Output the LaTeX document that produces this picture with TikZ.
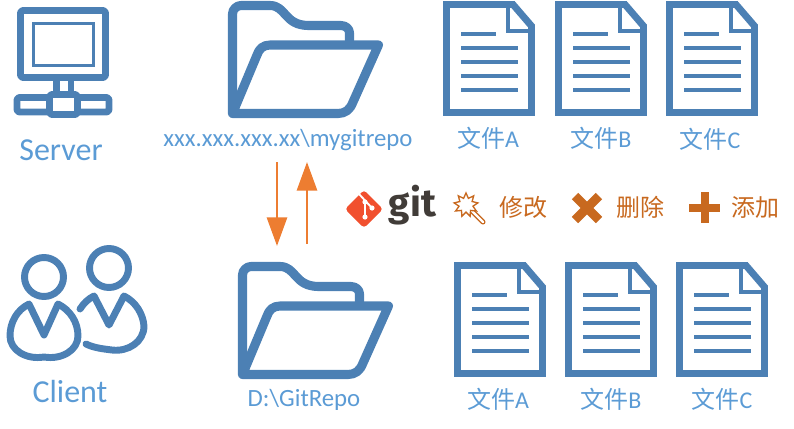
\documentclass[tikz,border=0pt]{standalone}
\usepackage{fontspec}
\setmainfont{Carlito}
\newfontfamily\cjk{Noto Sans CJK SC}
\newfontfamily\gitfont{Fira Sans}[BoldFont={Fira Sans Bold}]
\usetikzlibrary{positioning,arrows.meta,shapes.geometric}
\definecolor{iconblue}{HTML}{4C80B4}
\definecolor{textblue}{HTML}{5B9BD5}
\definecolor{arroworange}{HTML}{ED7D31}
\definecolor{editorange}{HTML}{C8691F}
\definecolor{gitred}{HTML}{F1502F}
\definecolor{gitdark}{HTML}{413C38}
\tikzset{
  iconline/.style={draw=iconblue, line width=5.2pt, line join=round, fill=white},
  folderline/.style={draw=iconblue, line width=6.8pt, line join=round},
  rowlabel/.style={text=textblue, font=\fontsize{24}{28}\selectfont, inner sep=0pt},
  pathlabel/.style={text=textblue, font=\fontsize{18.6}{22}\selectfont, inner sep=0pt},
  filelabel/.style={text=textblue, font=\fontsize{18}{22}\selectfont, inner sep=0pt},
  editlabel/.style={text=editorange, font=\cjk\fontsize{18}{22}\selectfont, inner sep=0pt},
  syncarrow/.style={-{Triangle[length=21.5pt,width=15pt]}, arroworange, line width=2.2pt},
  folderpic/.pic={
    \draw[folderline] (4.5,113.5) -- (4.5,14) .. controls (4.5,9) and (9,5.5) .. (13,5.5) -- (42,5.5)
      .. controls (58,5.5) and (56,25) .. (80,25.5) -- (113,25.5) .. controls (118,25.5) and (121.5,29) .. (121.5,33) -- (121.5,46);
    \draw[folderline, fill=white] (4.5,113.5) -- (29,55) .. controls (31,49) and (35,45) .. (42,45) -- (150.5,45) -- (125,102)
      .. controls (122,110) and (117,113.5) .. (110,113.5) -- cycle;
  },
  docpic/.pic={
    \draw[iconline, line join=miter] (3.5,3.5) -- (70,3.5) -- (88.5,25) -- (88.5,111.5) -- (3.5,111.5) -- cycle;
    \draw[draw=iconblue, line width=3pt] (65,4) -- (65,30) -- (88,30);
    \foreach \y/\len in {33/35,47/57,61/57,75/57,89/57}{\draw[draw=iconblue, line width=2.6pt] (18,\y) -- ++(\len,0);}
  },
}
\begin{document}
\begin{tikzpicture}[x=0.75pt, y=-0.75pt]
  \useasboundingbox (0,0) rectangle (794,429);
  % server
  \draw[iconline, rounded corners=2pt] (20.5,10.5) rectangle (105.5,77.5);
  \draw[draw=iconblue, line width=2.4pt] (33.5,23.5) rectangle (93.5,65.5);
  \foreach \x in {56.5,71}{\draw[draw=iconblue, line width=5pt] (\x,80) -- (\x,93);}
  \draw[iconline, rounded corners=2pt] (17,97.5) rectangle (109,112);
  \draw[iconline, rounded corners=2pt] (49.5,94.5) rectangle (77.5,114.5);
  \node[rowlabel] (serverlabel) at (61,150) {Server};
  % client
  \draw[iconline, fill=none, line cap=round] (80,309) .. controls (84,303) and (88,299) .. (94,296) -- (109,325) -- (124,296)
    .. controls (136,302) and (143,314) .. (144,326) .. controls (144,342) and (128,352) .. (112,350) .. controls (104,349) and (94,348) .. (86,344);
  \draw[iconline] (29,304) -- (44,335) -- (58,304) .. controls (70,310) and (78,322) .. (78,336)
    .. controls (78,350) and (62,360) .. (44,357) .. controls (26,360) and (10,350) .. (10,336) .. controls (10,322) and (17,310) .. (29,304) -- cycle;
  \foreach \x/\y in {109/268,44/277}{\draw[iconline] (\x,\y) circle[radius=19.5];}
  \node[rowlabel] (clientlabel) at (70,392) {Client};
  % folders
  \pic (remote) at (228,0) {folderpic};
  \pic (local) at (238,261) {folderpic};
  \node[pathlabel] (remotelabel) at (288,140) {xxx.xxx.xxx.xx\textbackslash mygitrepo};
  \node[pathlabel] (locallabel) at (304,400) {D:\textbackslash GitRepo};
  % arrows
  \coordinate (pulltop) at (277,162);
  \coordinate (pullend) at (277,246);
  \coordinate (pushend) at (307,162);
  \coordinate (pushtop) at (307,244);
  \draw[syncarrow] (pulltop) -- (pullend);
  \draw[syncarrow] (pushtop) -- (pushend);
  % files
  \foreach \x/\name in {443/A,555/B,666/C}{\pic (top\name) at (\x,1) {docpic};}
  \foreach \x/\name in {454/A,565/B,676/C}{\pic (bot\name) at (\x,262) {docpic};}
  \foreach \x/\y/\name in {488/138/A,601/138/B,710/139/C}{\node[filelabel] (toplabel\name) at (\x,\y) {{\cjk 文件}\name};}
  \foreach \x/\name in {498/A,611/B,722/C}{\node[filelabel] (botlabel\name) at (\x,399) {{\cjk 文件}\name};}
  % git logo
  \fill[gitred, rounded corners=2.5pt] (364,190) -- (383,209) -- (364,228) -- (345,209) -- cycle;
  \draw[white, line width=1.4pt] (359,194) -- (372,208) (365,201) -- (365,217);
  \foreach \x/\y in {365/202,372/208,365/217}{\fill[white] (\x,\y) circle[radius=2.6];}
  \node[inner sep=0pt, text=gitdark, font=\gitfont\bfseries\fontsize{29}{30}\selectfont] (gitword) at (412.5,205) {git};
  % edit
  \draw[draw=editorange, line width=3.8pt, line cap=round] (471,210) -- (483,222);
  \draw[draw=white, line width=1.6pt, line cap=round] (471,210) -- (483,222);
  \node[star, star points=9, star point ratio=1.7, minimum size=18pt, inner sep=0pt, draw=editorange, fill=white, line width=1pt] (wandstar) at (466,205) {};
  \node[editlabel] (editlabel) at (523,207) {修改};
  % delete
  \draw[draw=editorange, line width=6.8pt] (575,196) -- (599,220) (575,220) -- (599,196);
  \node[editlabel] (dellabel) at (640,207) {删除};
  % add
  \draw[draw=editorange, line width=6pt] (689,208) -- (720,208) (705,192) -- (705,223);
  \node[editlabel] (addlabel) at (755,207) {添加};
\end{tikzpicture}
\end{document}
